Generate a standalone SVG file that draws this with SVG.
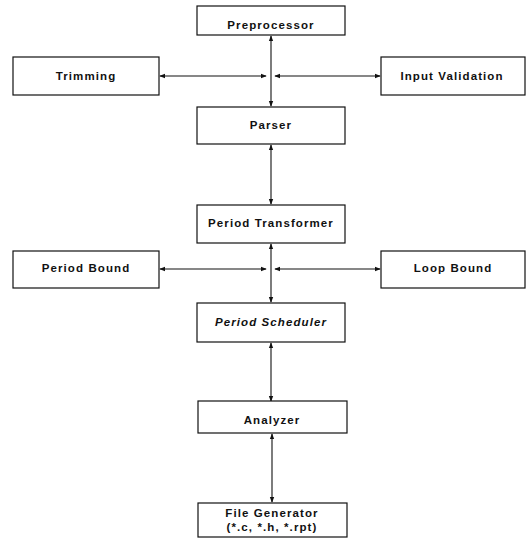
<svg xmlns="http://www.w3.org/2000/svg" width="526" height="539" viewBox="0 0 526 539">
<style>
.box{fill:#fff;stroke:#111;stroke-width:1.2}
.lbl{font-family:"Liberation Sans",Arial,sans-serif;font-weight:bold;font-size:11.5px;letter-spacing:1.1px;fill:#111;text-anchor:middle;dominant-baseline:central}
.it{font-style:italic}
.ln{stroke:#111;stroke-width:1.1;fill:none}
</style>
<defs>
<marker id="ah" viewBox="0 0 8 8" refX="7" refY="4" markerWidth="6" markerHeight="6" orient="auto-start-reverse" markerUnits="userSpaceOnUse">
<path d="M0,1 L8,4 L0,7 Z" fill="#111"/>
</marker>
</defs>
<rect width="526" height="539" fill="#fff"/>
<g id="connectors">
<line class="ln" x1="271" y1="36" x2="271" y2="106" marker-start="url(#ah)" marker-end="url(#ah)"/>
<line class="ln" x1="266" y1="76" x2="160" y2="76" marker-start="url(#ah)" marker-end="url(#ah)"/>
<line class="ln" x1="275" y1="76" x2="380" y2="76" marker-start="url(#ah)" marker-end="url(#ah)"/>
<line class="ln" x1="271" y1="145" x2="271" y2="204" marker-start="url(#ah)" marker-end="url(#ah)"/>
<line class="ln" x1="271" y1="244" x2="271" y2="302" marker-start="url(#ah)" marker-end="url(#ah)"/>
<line class="ln" x1="266" y1="269" x2="160" y2="269" marker-start="url(#ah)" marker-end="url(#ah)"/>
<line class="ln" x1="275" y1="269" x2="380" y2="269" marker-start="url(#ah)" marker-end="url(#ah)"/>
<line class="ln" x1="271" y1="343" x2="271" y2="401" marker-start="url(#ah)" marker-end="url(#ah)"/>
<line class="ln" x1="272" y1="434" x2="272" y2="502" marker-start="url(#ah)" marker-end="url(#ah)"/>
</g>
<g id="preprocessor"><rect class="box" x="197" y="6" width="148" height="29"/><text class="lbl" x="271" y="25">Preprocessor</text></g>
<g id="trimming"><rect class="box" x="13" y="57" width="146" height="38"/><text class="lbl" x="86" y="76">Trimming</text></g>
<g id="input-validation"><rect class="box" x="381" y="57" width="144" height="38"/><text class="lbl" x="452" y="76">Input Validation</text></g>
<g id="parser"><rect class="box" x="197" y="107" width="148" height="37"/><text class="lbl" x="271" y="125">Parser</text></g>
<g id="period-transformer"><rect class="box" x="197" y="205" width="148" height="38"/><text class="lbl" x="271" y="223">Period Transformer</text></g>
<g id="period-bound"><rect class="box" x="13" y="251" width="146" height="37"/><text class="lbl" x="86" y="268">Period Bound</text></g>
<g id="loop-bound"><rect class="box" x="381" y="251" width="144" height="37"/><text class="lbl" x="453" y="268">Loop Bound</text></g>
<g id="period-scheduler"><rect class="box" x="197" y="303" width="148" height="39"/><text class="lbl it" x="271" y="322">Period Scheduler</text></g>
<g id="analyzer"><rect class="box" x="198" y="401" width="149" height="32"/><text class="lbl" x="272" y="420">Analyzer</text></g>
<g id="file-generator"><rect class="box" x="198" y="503" width="149" height="34"/><text class="lbl" x="272" y="513">File Generator</text><text class="lbl" x="272" y="527">(*.c, *.h, *.rpt)</text></g>
</svg>
